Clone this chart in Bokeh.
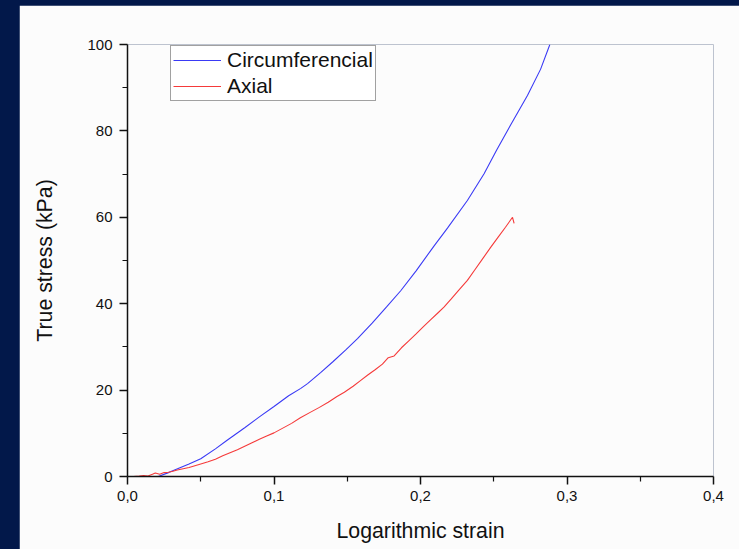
from bokeh.plotting import figure
from bokeh.models import Range1d, FixedTicker, Legend, LegendItem
from bokeh.embed import file_html
from bokeh.resources import INLINE

# ---- data ----
circ_strain = [0.021, 0.028, 0.035, 0.042, 0.050, 0.060, 0.068, 0.080, 0.090, 0.100,
               0.110, 0.1183, 0.1229, 0.132, 0.140, 0.149, 0.157, 0.167, 0.177, 0.1865,
               0.197, 0.2093, 0.2184, 0.232, 0.2434, 0.252, 0.2616, 0.273, 0.282, 0.2883]
circ_stress = [0.0, 0.9, 1.9, 2.9, 4.1, 6.4, 8.4, 11.3, 13.8, 16.2,
               18.7, 20.4, 21.5, 24.1, 26.5, 29.3, 31.9, 35.5, 39.3, 43.0,
               47.6, 53.4, 57.5, 63.9, 70.1, 75.6, 81.4, 88.2, 94.3, 100.0]

axial_strain = [0.004, 0.008, 0.011, 0.014, 0.017, 0.019, 0.022, 0.025, 0.028, 0.031,
                0.034, 0.038, 0.042, 0.046, 0.050, 0.055, 0.060, 0.065, 0.070, 0.075,
                0.080, 0.085, 0.090, 0.095, 0.100, 0.106, 0.112, 0.118, 0.125, 0.131,
                0.137, 0.143, 0.148, 0.154, 0.159, 0.164, 0.169, 0.174, 0.178, 0.182,
                0.187, 0.192, 0.197, 0.202, 0.207, 0.212, 0.216, 0.221, 0.226, 0.232,
                0.237, 0.242, 0.248, 0.253, 0.258, 0.2628, 0.2639]
axial_stress = [0.0, 0.1, 0.2, 0.1, 0.5, 0.8, 0.5, 0.9, 1.0, 1.2,
                1.5, 1.8, 2.1, 2.5, 2.9, 3.4, 4.0, 4.8, 5.5, 6.2,
                7.0, 7.8, 8.6, 9.4, 10.1, 11.2, 12.3, 13.6, 14.9, 16.0,
                17.2, 18.5, 19.5, 20.9, 22.2, 23.5, 24.7, 26.0, 27.5, 27.9,
                29.8, 31.4, 33.0, 34.7, 36.3, 37.9, 39.2, 41.1, 43.1, 45.4,
                47.8, 50.2, 53.1, 55.4, 57.7, 60.0, 58.6]

x_ticks = [0.0, 0.1, 0.2, 0.3, 0.4]
x_tick_labels = ["0,0", "0,1", "0,2", "0,3", "0,4"]
x_minor = [0.05, 0.15, 0.25, 0.35]
y_ticks = [0, 20, 40, 60, 80, 100]
y_tick_labels = ["0", "20", "40", "60", "80", "100"]
y_minor = [10, 30, 50, 70, 90]

series_names = ["Circumferencial", "Axial"]
series_colors = ["#3a3af5", "#f53a3a"]

FONT = "Liberation Sans"
PANEL = "#fcfcfc"

p = figure(frame_width=586, frame_height=432,
           x_range=Range1d(0, 0.4), y_range=Range1d(0, 100),
           output_backend="svg", toolbar_location=None,
           min_border_left=108, min_border_right=26,
           min_border_top=39, min_border_bottom=73,
           background_fill_color=PANEL, border_fill_color=PANEL,
           outline_line_color=None)
p.grid.visible = False

r1 = p.line(circ_strain, circ_stress, line_color=series_colors[0], line_width=1.1)
r2 = p.line(axial_strain, axial_stress, line_color=series_colors[1], line_width=1.1)

p.xaxis.ticker = FixedTicker(ticks=x_ticks, minor_ticks=x_minor)
p.xaxis.major_label_overrides = dict(zip(x_ticks, x_tick_labels))
p.yaxis.ticker = FixedTicker(ticks=y_ticks, minor_ticks=y_minor)
p.yaxis.major_label_overrides = dict(zip(y_ticks, y_tick_labels))

p.xaxis.axis_label = "Logarithmic strain"
p.yaxis.axis_label = "True stress (kPa)"

for ax in (p.xaxis, p.yaxis):
    ax.axis_line_color = "#111111"
    ax.axis_line_width = 1.5
    ax.major_tick_line_color = "#111111"
    ax.major_tick_line_width = 1.5
    ax.minor_tick_line_color = "#111111"
    ax.minor_tick_line_width = 1.2
    ax.major_tick_in = 0
    ax.major_tick_out = 8
    ax.minor_tick_in = 0
    ax.minor_tick_out = 5
    ax.major_label_text_font = FONT
    ax.major_label_text_font_size = "15px"
    ax.major_label_text_color = "#111111"
    ax.axis_label_text_font = FONT
    ax.axis_label_text_font_size = "21.3px"
    ax.axis_label_text_font_style = "normal"
    ax.axis_label_text_color = "#111111"

p.xaxis.major_label_standoff = 6
p.xaxis.axis_label_standoff = 15
p.yaxis.major_label_standoff = 7
p.yaxis.axis_label_standoff = 27

legend = Legend(items=[LegendItem(label=series_names[0], renderers=[r1]),
                       LegendItem(label=series_names[1], renderers=[r2])],
                location=(43, 375))
legend.label_text_font = FONT
legend.label_text_font_size = "21px"
legend.label_text_color = "#111111"
legend.glyph_width = 48
legend.glyph_height = 20
legend.label_height = 20
legend.label_standoff = 6
legend.spacing = 2
legend.padding = 2
legend.margin = 0
legend.border_line_color = "#444444"
legend.border_line_width = 1
legend.background_fill_color = "white"
legend.background_fill_alpha = 1.0
p.add_layout(legend, "center")

html = file_html(p, INLINE)
html = html.replace(
    "</head>",
    "<style>html,body{margin:0;padding:0;background:#02184a;overflow:hidden;}"
    "body{padding:5px 0 0 19px;}</style></head>", 1)
open("out.html", "w").write(html)
